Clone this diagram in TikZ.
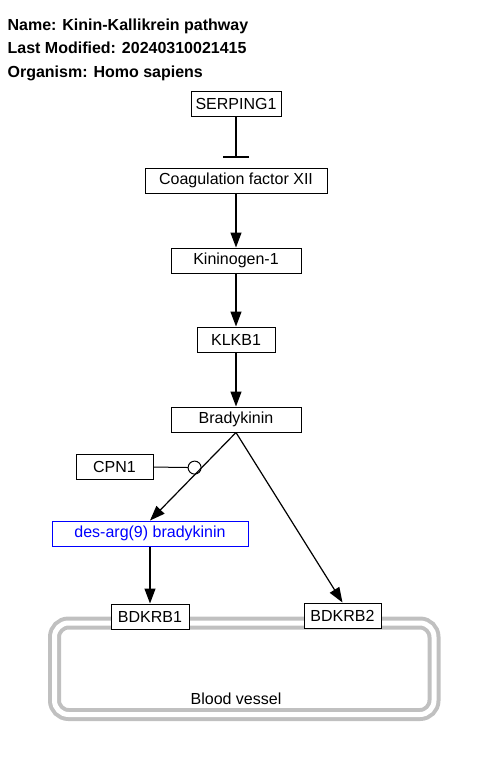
\documentclass[tikz,border=0pt]{standalone}
\usepackage{fontspec}
\setmainfont{Liberation Sans}
\usetikzlibrary{arrows.meta,positioning,calc}
\definecolor{vesselgray}{RGB}{192,192,192}
\definecolor{metablue}{RGB}{0,0,255}

\begin{document}
\begin{tikzpicture}[x=1pt,y=-1pt,->,>={Triangle[length=15pt,width=11pt]},line width=1.2pt,
                    main node/.style={rectangle,draw,line width=1pt,minimum height=25pt,inner sep=0pt,font=\fontsize{16}{19}\selectfont},
                    head/.style={anchor=base west,inner sep=0pt,font=\bfseries\fontsize{16}{19}\selectfont},
                    vessel/.style={draw=vesselgray,line width=4pt,double=white,double distance=5pt,rounded corners=14pt}]
  \useasboundingbox (0,0) rectangle (480,761);

  % header
  \node[head] (name) at (7,30) {Name: Kinin-Kallikrein pathway};
  \node[head] (modified) at (7,53) {Last Modified: 20240310021415};
  \node[head] (organism) at (7,77) {Organism: Homo sapiens};

  % blood vessel
  \draw[vessel,-] (54.5,623) rectangle (434,714.5);
  \node[font=\fontsize{16}{19}\selectfont] (vessellabel) at (236,699) {Blood vessel};

  % main chain
  \node[main node,minimum width=90pt] (serping) at (236,103.5) {SERPING1};
  \node[main node,minimum width=182pt] (f12) [below=51pt of serping] {Coagulation factor XII};
  \node[main node,minimum width=130pt] (kng) [below=54pt of f12] {Kininogen-1};
  \node[main node,minimum width=78pt] (klkb) [below=53pt of kng] {KLKB1};
  \node[main node,minimum width=130pt] (brady) [below=54pt of klkb] {Bradykinin};

  \node[main node,minimum width=77pt] (cpn) at (114.5,466.5) {CPN1};
  \node[main node,minimum width=196pt,draw=metablue,text=metablue] (desarg) at (150,533.5) {des-arg(9) bradykinin};
  \node[main node,minimum width=78pt,fill=white] (b1) [below=57pt of desarg] {BDKRB1};
  \node[main node,minimum width=77pt,fill=white] (b2) at (342.5,615.5) {BDKRB2};

  \path (serping)
          edge [-{Bar[width=26pt]},shorten >=10pt] (f12)
        (f12) edge (kng)
        (kng) edge (klkb)
        (klkb) edge (brady)
        (brady.south) edge (desarg.north)
        (brady.south) edge (b2.north)
        (desarg) edge (b1);

  \coordinate (cat) at ($(brady.south)!0.4!(desarg.north)$);
  \draw[-{Circle[open,length=14pt,line width=1pt]},line width=1pt] (cpn) -- (cat);
\end{tikzpicture}
\end{document}
